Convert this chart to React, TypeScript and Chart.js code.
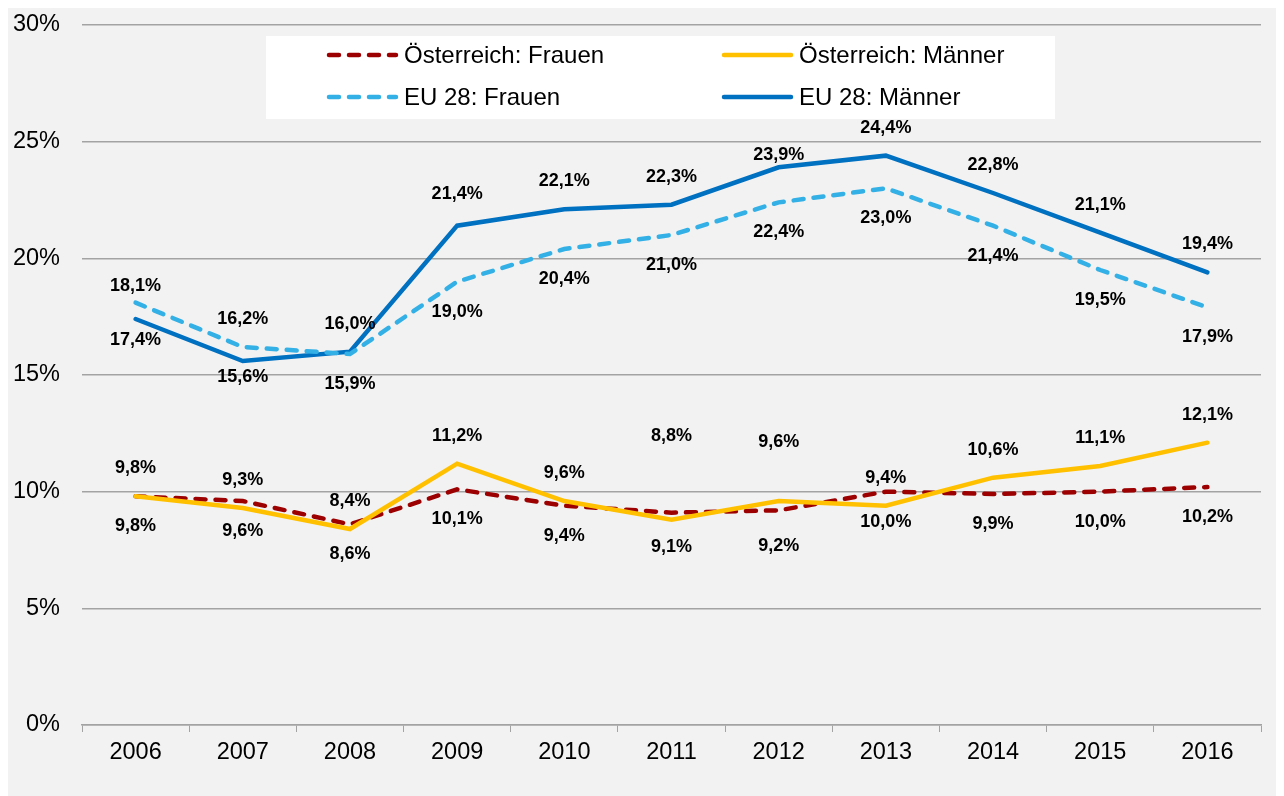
import React, { useEffect, useRef } from "react";
import { Chart, registerables } from "chart.js";

Chart.register(...registerables);

const years = ["2006", "2007", "2008", "2009", "2010", "2011", "2012", "2013", "2014", "2015", "2016"];
const atFrauen = [9.8, 9.6, 8.6, 10.1, 9.4, 9.1, 9.2, 10.0, 9.9, 10.0, 10.2];
const atMaenner = [9.8, 9.3, 8.4, 11.2, 9.6, 8.8, 9.6, 9.4, 10.6, 11.1, 12.1];
const euFrauen = [18.1, 16.2, 15.9, 19.0, 20.4, 21.0, 22.4, 23.0, 21.4, 19.5, 17.9];
const euMaenner = [17.4, 15.6, 16.0, 21.4, 22.1, 22.3, 23.9, 24.4, 22.8, 21.1, 19.4];
const yMin = 0;
const yMax = 30;
const yStep = 5;

const seriesLabels = ["Österreich: Frauen", "Österreich: Männer", "EU 28: Frauen", "EU 28: Männer"];

// label placement per series and point: "a" above, "b" below
const labelSide = [
  ["b", "b", "b", "b", "b", "b", "b", "b", "b", "b", "b"],
  ["a", "a", "a", "a", "a", "a", "a", "a", "a", "a", "a"],
  ["a", "a", "b", "b", "b", "b", "b", "b", "b", "b", "b"],
  ["b", "b", "a", "a", "a", "a", "a", "a", "a", "a", "a"],
];
// small manual label adjustments (px) as in the original
const labelNudge: Record<string, number> = {
  "2-0": 11,
  "3-0": -9,
  "3-1": -14,
  "3-6": 16,
  "3-3": -4,
  "1-5": -56,
  "1-6": -31,
  "0-5": 4,
  "0-6": 6,
};

const FONT = "'Liberation Sans', Arial, sans-serif";
const GRID = "#a3a3a3";

const fmt = (v: number) => v.toFixed(1).replace(".", ",") + "%";

const dataLabelPlugin = {
  id: "dataLabels",
  afterDatasetsDraw(chart: any) {
    const ctx = chart.ctx;
    ctx.save();
    ctx.font = `bold 18px ${FONT}`;
    ctx.fillStyle = "#000";
    ctx.textAlign = "center";
    ctx.textBaseline = "middle";
    chart.data.datasets.forEach((ds: any, di: number) => {
      const meta = chart.getDatasetMeta(di);
      meta.data.forEach((el: any, pi: number) => {
        const side = labelSide[di][pi];
        let dy = side === "a" ? -28 : 30;
        dy += labelNudge[`${di}-${pi}`] || 0;
        ctx.fillText(fmt(ds.data[pi]), el.x, el.y + dy);
      });
    });
    ctx.restore();
  },
};

const legendPlugin = {
  id: "boxLegend",
  afterDraw(chart: any) {
    const ctx = chart.ctx;
    const ca = chart.chartArea;
    const bx = ca.left + 184;
    const by = ca.top + 11;
    const bw = 789;
    const bh = 83;
    ctx.save();
    ctx.fillStyle = "#ffffff";
    ctx.fillRect(bx, by, bw, bh);
    const colX = [bx + 61, bx + 456];
    const rowY = [by + 19, by + 61];
    chart.data.datasets.forEach((ds: any, i: number) => {
      const x = colX[i % 2];
      const y = rowY[Math.floor(i / 2)];
      ctx.beginPath();
      ctx.strokeStyle = ds.borderColor;
      ctx.lineWidth = ds.borderWidth;
      ctx.lineCap = "round";
      ctx.setLineDash(ds.borderDash || []);
      ctx.moveTo(x + 2, y);
      ctx.lineTo(x + 69, y);
      ctx.stroke();
      ctx.setLineDash([]);
      ctx.fillStyle = "#000";
      ctx.font = `24px ${FONT}`;
      ctx.textAlign = "left";
      ctx.textBaseline = "middle";
      ctx.fillText(ds.label, x + 77, y + 1);
    });
    ctx.restore();
  },
};

export default function App() {
  const ref = useRef<HTMLCanvasElement | null>(null);

  useEffect(() => {
    if (!ref.current) return;
    const chart = new Chart(ref.current, {
      type: "line",
      data: {
        labels: years,
        datasets: [
          {
            label: seriesLabels[0],
            data: atFrauen,
            borderColor: "#9c0000",
            borderWidth: 4.5,
            borderDash: [10, 10],
            borderCapStyle: "round",
            pointRadius: 0,
            tension: 0,
            order: 3,
          },
          {
            label: seriesLabels[1],
            data: atMaenner,
            borderColor: "#ffc000",
            borderWidth: 4.5,
            borderCapStyle: "round",
            pointRadius: 0,
            tension: 0,
            order: 2,
          },
          {
            label: seriesLabels[2],
            data: euFrauen,
            borderColor: "#33b0e6",
            borderWidth: 4.5,
            borderDash: [10, 10],
            borderCapStyle: "round",
            pointRadius: 0,
            tension: 0,
            order: 0,
          },
          {
            label: seriesLabels[3],
            data: euMaenner,
            borderColor: "#0070c0",
            borderWidth: 4.5,
            borderCapStyle: "round",
            pointRadius: 0,
            tension: 0,
            order: 1,
          },
        ],
      },
      options: {
        animation: false,
        responsive: false,
        layout: { autoPadding: false, padding: { top: 17, right: 23, left: 0, bottom: 0 } },
        plugins: {
          legend: { display: false },
          tooltip: { enabled: false },
        },
        scales: {
          x: {
            type: "category",
            offset: true,
            grid: {
              offset: true,
              drawOnChartArea: false,
              tickLength: 7,
              color: GRID,
            },
            border: { color: GRID, width: 1.5 },
            ticks: {
              color: "#000",
              font: { family: FONT, size: 23.5 },
              padding: 6,
              maxRotation: 0,
            },
            afterFit: (s: any) => {
              s.height = 71;
              s.paddingLeft = 0;
              s.paddingRight = 0;
            },
          },
          y: {
            min: yMin,
            max: yMax,
            ticks: {
              stepSize: yStep,
              color: "#000",
              font: { family: FONT, size: 23.5 },
              padding: 22,
              callback: (v: any) => v + "%",
            },
            grid: { color: GRID, lineWidth: 1.5, drawTicks: false },
            border: { display: false },
            afterFit: (s: any) => {
              s.width = 74;
              s.paddingTop = 0;
              s.paddingBottom = 0;
            },
          },
        },
      },
      plugins: [dataLabelPlugin, legendPlugin],
    });
    return () => chart.destroy();
  }, []);

  return (
    <div style={{ width: 1276, height: 788, background: "#f2f2f2" }}>
      <canvas ref={ref} width={1276} height={788} style={{ display: "block" }} />
    </div>
  );
}
